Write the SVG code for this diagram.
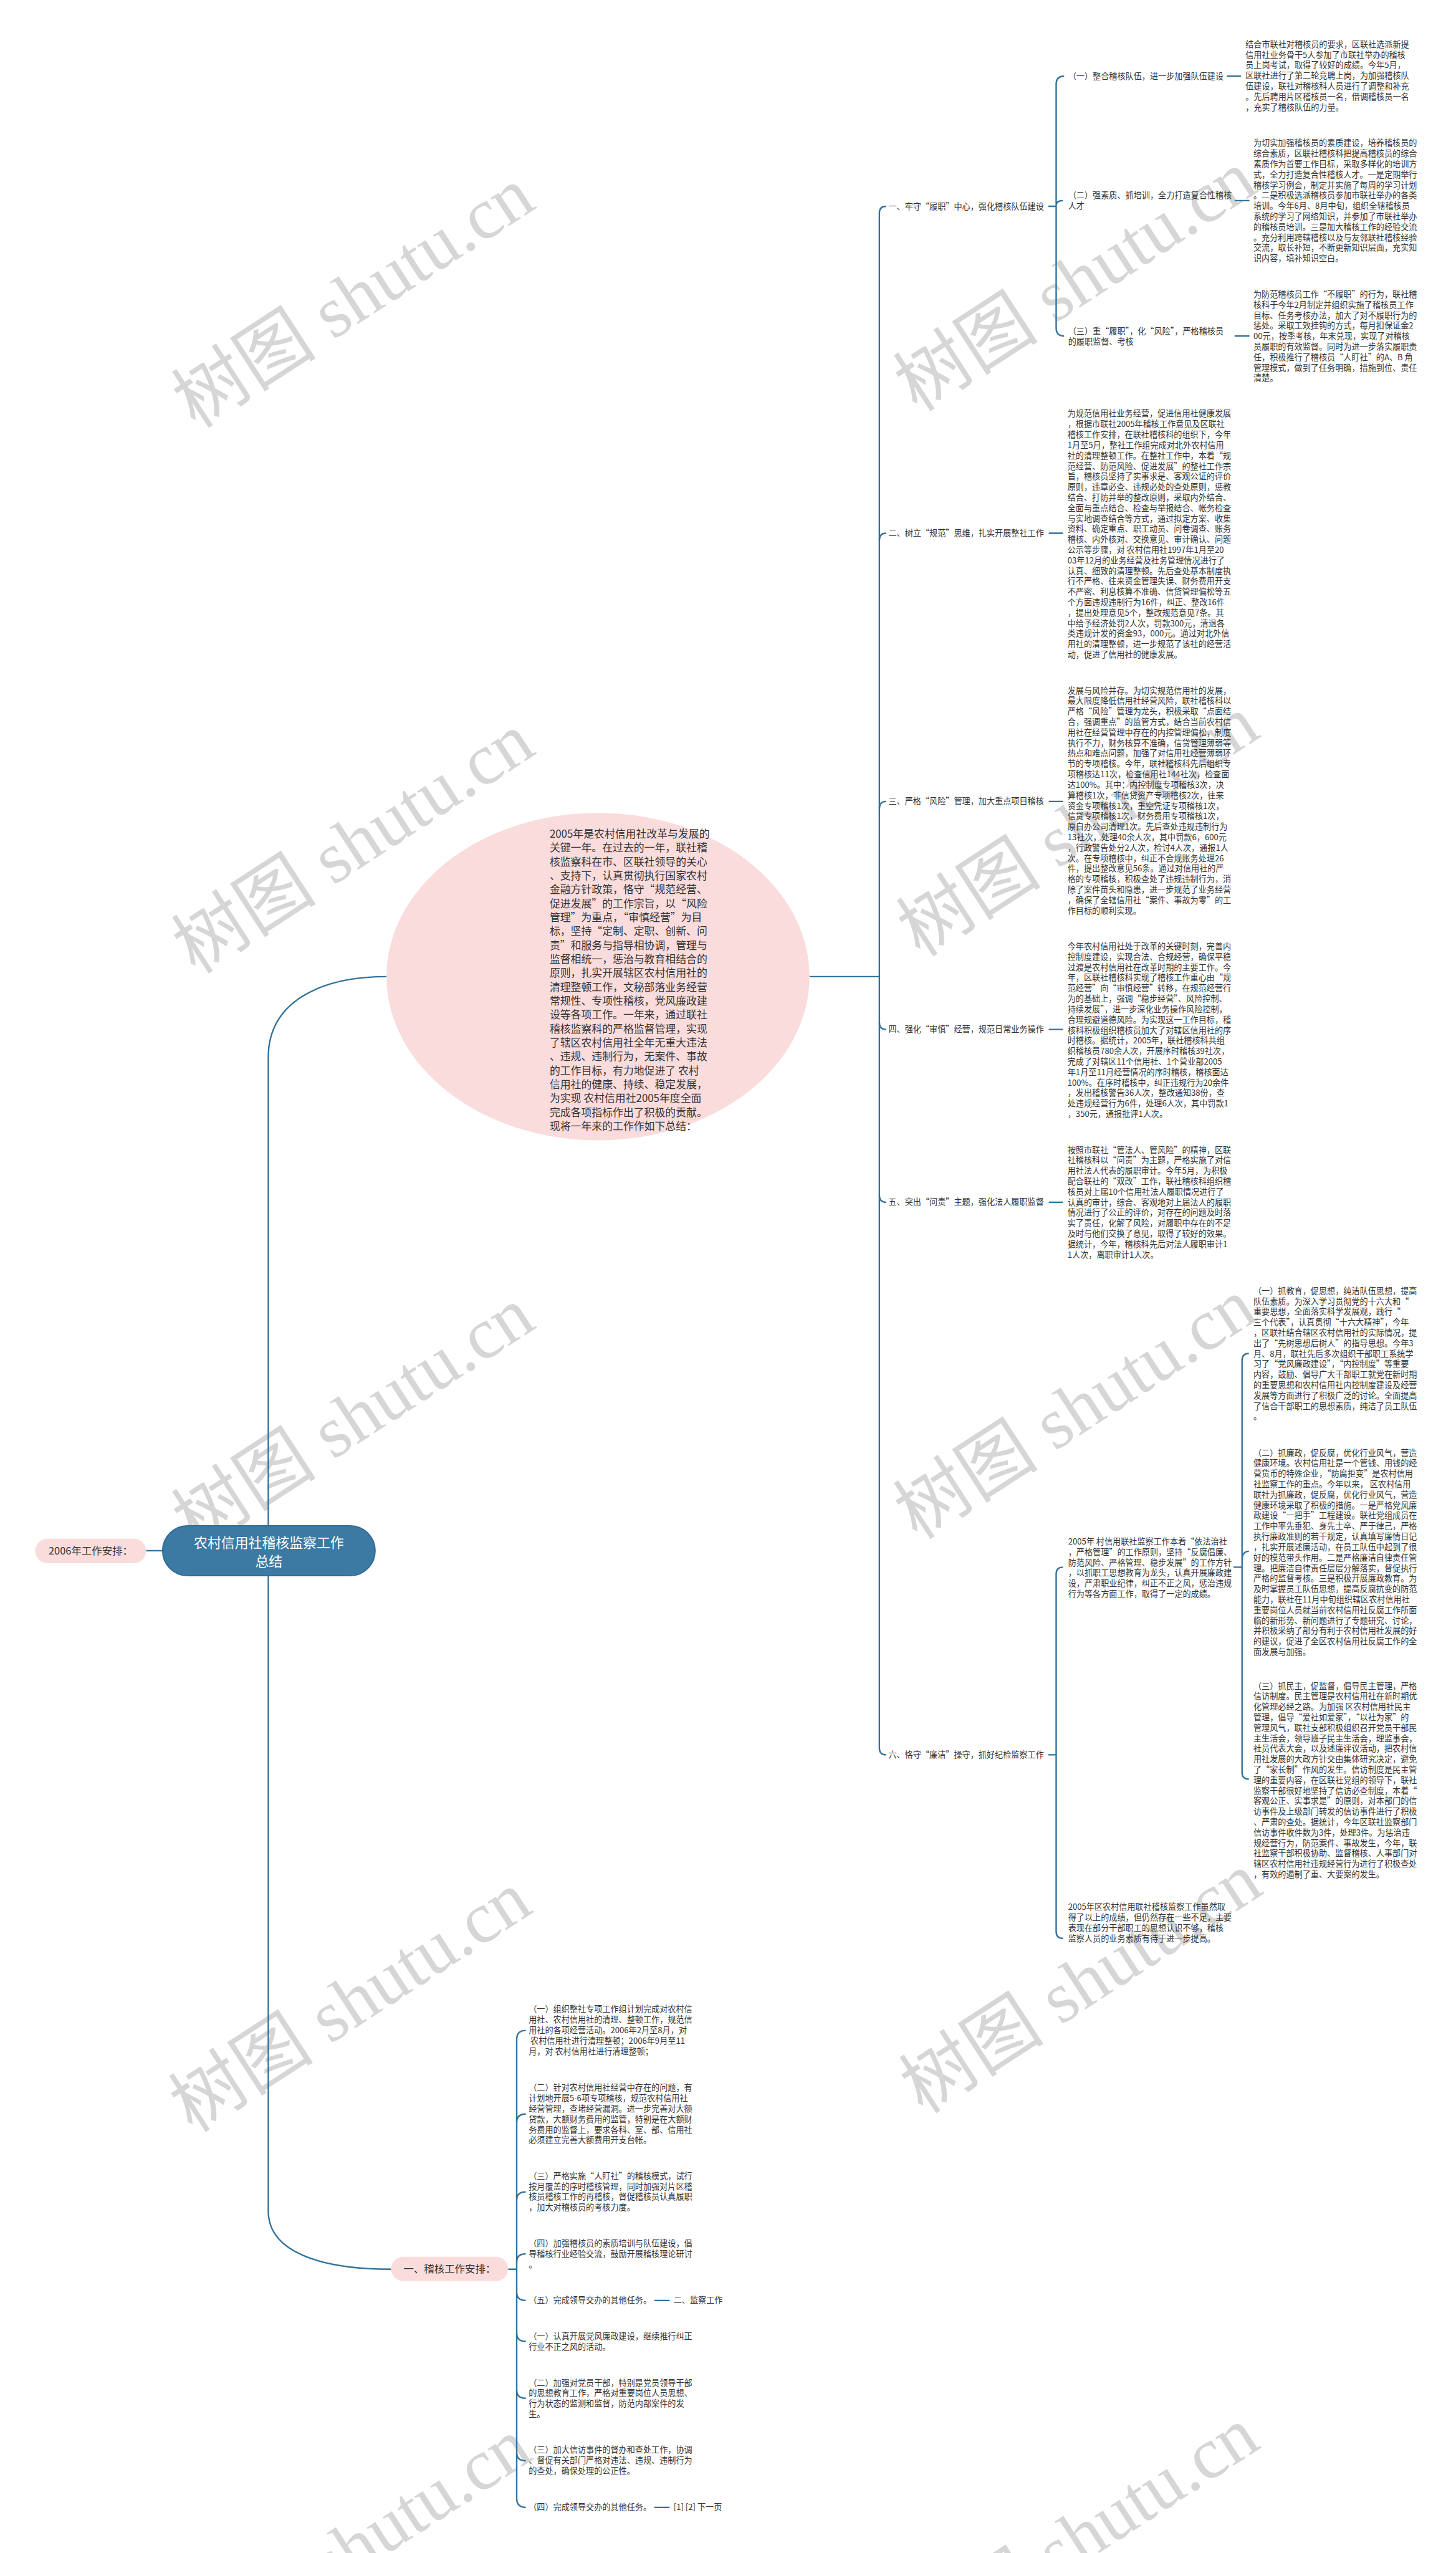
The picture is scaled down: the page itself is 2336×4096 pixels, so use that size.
<svg xmlns="http://www.w3.org/2000/svg" width="2336" height="4096" viewBox="0 0 2336 4096">
<style>
.t{font-family:"Noto Sans CJK SC","Noto Sans",sans-serif;font-size:14.4px;fill:#333}
.lb{font-family:"Noto Sans CJK SC","Noto Sans",sans-serif;font-size:18px;fill:#333;text-anchor:middle}
.el{font-family:"Noto Sans CJK SC","Noto Sans",sans-serif;font-size:18.5px;fill:#333}
.rt{font-family:"Noto Sans CJK SC","Noto Sans",sans-serif;font-size:24px;fill:#fff;text-anchor:middle}
.wm{font-family:"Liberation Serif","Noto Sans CJK SC",serif;font-size:128px;fill:#d6d6d6;text-anchor:middle}
.c{fill:none;stroke:#33729b;stroke-width:2.6}
.pk{fill:#fadcdc}
</style>
<rect width="2336" height="4096" fill="#fff"/>
<g transform="scale(0.912)">
<g id="watermarks">
<text class="wm" transform="translate(645,560) rotate(-33)">树图 shutu.cn</text>
<text class="wm" transform="translate(1915,531) rotate(-33)">树图 shutu.cn</text>
<text class="wm" transform="translate(645,1520) rotate(-33)">树图 shutu.cn</text>
<text class="wm" transform="translate(1920,1490) rotate(-33)">树图 shutu.cn</text>
<text class="wm" transform="translate(645,2530) rotate(-33)">树图 shutu.cn</text>
<text class="wm" transform="translate(1915,2515) rotate(-33)">树图 shutu.cn</text>
<text class="wm" transform="translate(640,3558) rotate(-33)">树图 shutu.cn</text>
<text class="wm" transform="translate(1925,3525) rotate(-33)">树图 shutu.cn</text>
<text class="wm" transform="translate(640,4520) rotate(-33)">树图 shutu.cn</text>
<text class="wm" transform="translate(1920,4500) rotate(-33)">树图 shutu.cn</text>
</g>
<g id="connectors">
<path class="c" d="M257,2728 H286"/>
<path class="c" d="M472,2684 V1860 C472,1765 560,1718 680,1718"/>
<path class="c" d="M472,2772 V3890 C472,3960 560,3992 688,3992"/>
<path class="c" d="M1424,1718 H1547"/>
<path class="c" d="M1559,363 Q1547,363 1547,375 V3075 Q1547,3087 1559,3087"/>
<path class="c" d="M1547,950 Q1547,938 1559,938 M1547,1422 Q1547,1410 1559,1410 M1547,1799 Q1547,1811 1559,1811 M1547,2103 Q1547,2115 1559,2115"/>
<path class="c" d="M1844,363 H1858 M1872,134 Q1858,134 1858,148 V577 Q1858,591 1872,591 M1858,362 Q1858,353 1870,353"/>
<path class="c" d="M2158,134 H2183 M2172,353 H2198 M2172,591 H2198"/>
<path class="c" d="M1845,938 H1870 M1845,1410 H1870 M1845,1811 H1870 M1845,2115 H1870"/>
<path class="c" d="M1844,3087 H1858 M1870,2757 Q1858,2757 1858,2769 V3398 Q1858,3410 1870,3410"/>
<path class="c" d="M2170,2757 H2185 M2197,2381 Q2185,2381 2185,2393 V3118 Q2185,3130 2197,3130 M2185,2745 Q2185,2729 2197,2729"/>
<path class="c" d="M894,3992 H909 M925,3572 Q909,3572 909,3588 V4395 Q909,4411 925,4411"/>
<path class="c" d="M909,3733 Q909,3719 925,3719 M909,3870 Q909,3856 925,3856 M909,3979 Q909,3965 925,3965 M909,4033 Q909,4047 925,4047 M909,4105 Q909,4119 925,4119 M909,4205 Q909,4219 925,4219 M909,4315 Q909,4329 925,4329"/>
<path class="c" d="M1151,4047 H1178 M1151,4411 H1178"/>
</g>
<g id="root">
<rect x="286" y="2684" width="374" height="88" rx="44" fill="#3c7aa3" stroke="#2e6990" stroke-width="2"/>
<text class="rt" x="473" y="2723">农村信用社稽核监察工作</text>
<text class="rt" x="473" y="2755">总结</text>
</g>
<g id="n2006">
<rect class="pk" x="62" y="2707" width="195" height="43" rx="21.5"/>
<text class="lb" x="159.5" y="2735">2006年工作安排：</text>
</g>
<g id="intro">
<ellipse class="pk" cx="1052" cy="1718" rx="372" ry="288"/>
<text class="el" x="967" y="1473.5"><tspan x="967" dy="0">2005年是农村信用社改革与发展的</tspan><tspan x="967" dy="24.5">关键一年。在过去的一年，联社稽</tspan><tspan x="967" dy="24.5">核监察科在市、区联社领导的关心</tspan><tspan x="967" dy="24.5">、支持下，认真贯彻执行国家农村</tspan><tspan x="967" dy="24.5">金融方针政策，恪守“规范经营、</tspan><tspan x="967" dy="24.5">促进发展”的工作宗旨，以“风险</tspan><tspan x="967" dy="24.5">管理”为重点，“审慎经营”为目</tspan><tspan x="967" dy="24.5">标，坚持“定制、定职、创新、问</tspan><tspan x="967" dy="24.5">责”和服务与指导相协调，管理与</tspan><tspan x="967" dy="24.5">监督相统一，惩治与教育相结合的</tspan><tspan x="967" dy="24.5">原则，扎实开展辖区农村信用社的</tspan><tspan x="967" dy="24.5">清理整顿工作，文秘部落业务经营</tspan><tspan x="967" dy="24.5">常规性、专项性稽核，党风廉政建</tspan><tspan x="967" dy="24.5">设等各项工作。一年来，通过联社</tspan><tspan x="967" dy="24.5">稽核监察科的严格监督管理，实现</tspan><tspan x="967" dy="24.5">了辖区农村信用社全年无重大违法</tspan><tspan x="967" dy="24.5">、违规、违制行为，无案件、事故</tspan><tspan x="967" dy="24.5">的工作目标，有力地促进了 农村</tspan><tspan x="967" dy="24.5">信用社的健康、持续、稳定发展，</tspan><tspan x="967" dy="24.5">为实现 农村信用社2005年度全面</tspan><tspan x="967" dy="24.5">完成各项指标作出了积极的贡献。</tspan><tspan x="967" dy="24.5">现将一年来的工作作如下总结：</tspan></text>
</g>
<g id="b1">
<text class="t" x="1563" y="368">一、牢守“履职”中心，强化稽核队伍建设</text>
</g>
<g id="b1-1">
<text class="t" x="1879" y="139">（一）整合稽核队伍，进一步加强队伍建设</text>
<text class="t" x="2191" y="83"><tspan x="2191" dy="0">结合市联社对稽核员的要求，区联社选派新提</tspan><tspan x="2191" dy="18.43">信用社业务骨干5人参加了市联社举办的稽核</tspan><tspan x="2191" dy="18.43">员上岗考试，取得了较好的成绩。今年5月，</tspan><tspan x="2191" dy="18.43">区联社进行了第二轮竞聘上岗，为加强稽核队</tspan><tspan x="2191" dy="18.43">伍建设，联社对稽核科人员进行了调整和补充</tspan><tspan x="2191" dy="18.43">。先后聘用片区稽核员一名，借调稽核员一名</tspan><tspan x="2191" dy="18.43">，充实了稽核队伍的力量。</tspan></text>
</g>
<g id="b1-2">
<text class="t" x="1879" y="349"><tspan x="1879" dy="0">（二）强素质、抓培训，全力打造复合性稽核</tspan><tspan x="1879" dy="18.43">人才</tspan></text>
<text class="t" x="2205" y="257"><tspan x="2205" dy="0">为切实加强稽核员的素质建设，培养稽核员的</tspan><tspan x="2205" dy="18.43">综合素质，区联社稽核科把提高稽核员的综合</tspan><tspan x="2205" dy="18.43">素质作为首要工作目标，采取多样化的培训方</tspan><tspan x="2205" dy="18.43">式，全力打造复合性稽核人才。一是定期举行</tspan><tspan x="2205" dy="18.43">稽核学习例会，制定并实施了每周的学习计划</tspan><tspan x="2205" dy="18.43">。二是积极选派稽核员参加市联社举办的各类</tspan><tspan x="2205" dy="18.43">培训。今年6月、8月中旬，组织全辖稽核员</tspan><tspan x="2205" dy="18.43">系统的学习了网络知识，并参加了市联社举办</tspan><tspan x="2205" dy="18.43">的稽核员培训。三是加大稽核工作的经验交流</tspan><tspan x="2205" dy="18.43">。充分利用跨辖稽核以及与友邻联社稽核经验</tspan><tspan x="2205" dy="18.43">交流，取长补短，不断更新知识层面，充实知</tspan><tspan x="2205" dy="18.43">识内容，填补知识空白。</tspan></text>
</g>
<g id="b1-3">
<text class="t" x="1879" y="588"><tspan x="1879" dy="0">（三）重“履职”，化“风险”，严格稽核员</tspan><tspan x="1879" dy="18.43">的履职监督、考核</tspan></text>
<text class="t" x="2205" y="523"><tspan x="2205" dy="0">为防范稽核员工作“不履职”的行为，联社稽</tspan><tspan x="2205" dy="18.43">核科于今年2月制定并组织实施了稽核员工作</tspan><tspan x="2205" dy="18.43">目标、任务考核办法，加大了对不履职行为的</tspan><tspan x="2205" dy="18.43">惩处。采取工效挂钩的方式，每月扣保证金2</tspan><tspan x="2205" dy="18.43">00元，按季考核，年末兑现，实现了对稽核</tspan><tspan x="2205" dy="18.43">员履职的有效监督。同时为进一步落实履职责</tspan><tspan x="2205" dy="18.43">任，积极推行了稽核员“人盯社”的A、B 角</tspan><tspan x="2205" dy="18.43">管理模式，做到了任务明确，措施到位、责任</tspan><tspan x="2205" dy="18.43">清楚。</tspan></text>
</g>
<g id="b2">
<text class="t" x="1563" y="943">二、树立“规范”思维，扎实开展整社工作</text>
<text class="t" x="1878" y="733"><tspan x="1878" dy="0">为规范信用社业务经营，促进信用社健康发展</tspan><tspan x="1878" dy="18.43">，根据市联社2005年稽核工作意见及区联社</tspan><tspan x="1878" dy="18.43">稽核工作安排，在联社稽核科的组织下，今年</tspan><tspan x="1878" dy="18.43">1月至5月，整社工作组完成对北外农村信用</tspan><tspan x="1878" dy="18.43">社的清理整顿工作。在整社工作中，本着“规</tspan><tspan x="1878" dy="18.43">范经营、防范风险、促进发展”的整社工作宗</tspan><tspan x="1878" dy="18.43">旨，稽核员坚持了实事求是、客观公证的评价</tspan><tspan x="1878" dy="18.43">原则，违章必查、违规必处的查处原则，惩教</tspan><tspan x="1878" dy="18.43">结合、打防并举的整改原则，采取内外结合、</tspan><tspan x="1878" dy="18.43">全面与重点结合、检查与举报结合、帐务检查</tspan><tspan x="1878" dy="18.43">与实地调查结合等方式，通过拟定方案、收集</tspan><tspan x="1878" dy="18.43">资料、确定重点、职工动员、问卷调查、账务</tspan><tspan x="1878" dy="18.43">稽核、内外核对、交换意见、审计确认、问题</tspan><tspan x="1878" dy="18.43">公示等步骤，对 农村信用社1997年1月至20</tspan><tspan x="1878" dy="18.43">03年12月的业务经营及社务管理情况进行了</tspan><tspan x="1878" dy="18.43">认真、细致的清理整顿。先后查处基本制度执</tspan><tspan x="1878" dy="18.43">行不严格、往来资金管理失误、财务费用开支</tspan><tspan x="1878" dy="18.43">不严密、利息核算不准确、信贷管理偏松等五</tspan><tspan x="1878" dy="18.43">个方面违规违制行为16件，纠正、整改16件</tspan><tspan x="1878" dy="18.43">，提出处理意见5个，整改规范意见7条。其</tspan><tspan x="1878" dy="18.43">中给予经济处罚2人次，罚款300元，清退各</tspan><tspan x="1878" dy="18.43">类违规计发的资金93，000元。通过对北外信</tspan><tspan x="1878" dy="18.43">用社的清理整顿，进一步规范了该社的经营活</tspan><tspan x="1878" dy="18.43">动，促进了信用社的健康发展。</tspan></text>
</g>
<g id="b3">
<text class="t" x="1563" y="1415">三、严格“风险”管理，加大重点项目稽核</text>
<text class="t" x="1878" y="1220"><tspan x="1878" dy="0">发展与风险并存。为切实规范信用社的发展，</tspan><tspan x="1878" dy="18.43">最大限度降低信用社经营风险，联社稽核科以</tspan><tspan x="1878" dy="18.43">严格“风险”管理为龙头，积极采取“点面结</tspan><tspan x="1878" dy="18.43">合，强调重点”的监管方式，结合当前农村信</tspan><tspan x="1878" dy="18.43">用社在经营管理中存在的内控管理偏松，制度</tspan><tspan x="1878" dy="18.43">执行不力，财务核算不准确，信贷管理薄弱等</tspan><tspan x="1878" dy="18.43">热点和难点问题，加强了对信用社经营薄弱环</tspan><tspan x="1878" dy="18.43">节的专项稽核。今年，联社稽核科先后组织专</tspan><tspan x="1878" dy="18.43">项稽核达11次，检查信用社144社次，检查面</tspan><tspan x="1878" dy="18.43">达100%。其中：内控制度专项稽核3次，决</tspan><tspan x="1878" dy="18.43">算稽核1次，非信贷资产专项稽核2次，往来</tspan><tspan x="1878" dy="18.43">资金专项稽核1次，重空凭证专项稽核1次，</tspan><tspan x="1878" dy="18.43">信贷专项稽核1次，财务费用专项稽核1次，</tspan><tspan x="1878" dy="18.43">原自办公司清理1次。先后查处违规违制行为</tspan><tspan x="1878" dy="18.43">13社次，处理40余人次，其中罚款6，600元</tspan><tspan x="1878" dy="18.43">，行政警告处分2人次，检讨4人次，通报1人</tspan><tspan x="1878" dy="18.43">次。在专项稽核中，纠正不合规账务处理26</tspan><tspan x="1878" dy="18.43">件，提出整改意见56条。通过对信用社的严</tspan><tspan x="1878" dy="18.43">格的专项稽核，积极查处了违规违制行为，消</tspan><tspan x="1878" dy="18.43">除了案件苗头和隐患，进一步规范了业务经营</tspan><tspan x="1878" dy="18.43">，确保了全辖信用社“案件、事故为零”的工</tspan><tspan x="1878" dy="18.43">作目标的顺利实现。</tspan></text>
</g>
<g id="b4">
<text class="t" x="1563" y="1816">四、强化“审慎”经营，规范日常业务操作</text>
<text class="t" x="1878" y="1670"><tspan x="1878" dy="0">今年农村信用社处于改革的关键时刻，完善内</tspan><tspan x="1878" dy="18.43">控制度建设，实现合法、合规经营，确保平稳</tspan><tspan x="1878" dy="18.43">过渡是农村信用社在改革时期的主要工作。今</tspan><tspan x="1878" dy="18.43">年，区联社稽核科实现了稽核工作重心由“规</tspan><tspan x="1878" dy="18.43">范经营”向“审慎经营”转移，在规范经营行</tspan><tspan x="1878" dy="18.43">为的基础上，强调“稳步经营”、风险控制、</tspan><tspan x="1878" dy="18.43">持续发展”，进一步深化业务操作风险控制，</tspan><tspan x="1878" dy="18.43">合理规避道德风险。为实现这一工作目标，稽</tspan><tspan x="1878" dy="18.43">核科积极组织稽核员加大了对辖区信用社的序</tspan><tspan x="1878" dy="18.43">时稽核。据统计，2005年，联社稽核科共组</tspan><tspan x="1878" dy="18.43">织稽核员780余人次，开展序时稽核39社次，</tspan><tspan x="1878" dy="18.43">完成了对辖区11个信用社、1个营业部2005</tspan><tspan x="1878" dy="18.43">年1月至11月经营情况的序时稽核，稽核面达</tspan><tspan x="1878" dy="18.43">100%。在序时稽核中，纠正违规行为20余件</tspan><tspan x="1878" dy="18.43">，发出稽核警告36人次，整改通知38份，查</tspan><tspan x="1878" dy="18.43">处违规经营行为6件，处理6人次，其中罚款1</tspan><tspan x="1878" dy="18.43">，350元，通报批评1人次。</tspan></text>
</g>
<g id="b5">
<text class="t" x="1563" y="2120">五、突出“问责”主题，强化法人履职监督</text>
<text class="t" x="1878" y="2028"><tspan x="1878" dy="0">按照市联社“管法人、管风险”的精神，区联</tspan><tspan x="1878" dy="18.43">社稽核科以“问责”为主题，严格实施了对信</tspan><tspan x="1878" dy="18.43">用社法人代表的履职审计。今年5月，为积极</tspan><tspan x="1878" dy="18.43">配合联社的“双改”工作，联社稽核科组织稽</tspan><tspan x="1878" dy="18.43">核员对上届10个信用社法人履职情况进行了</tspan><tspan x="1878" dy="18.43">认真的审计，综合、客观地对上届法人的履职</tspan><tspan x="1878" dy="18.43">情况进行了公正的评价，对存在的问题及时落</tspan><tspan x="1878" dy="18.43">实了责任，化解了风险，对履职中存在的不足</tspan><tspan x="1878" dy="18.43">及时与他们交换了意见，取得了较好的效果。</tspan><tspan x="1878" dy="18.43">据统计，今年，稽核科先后对法人履职审计1</tspan><tspan x="1878" dy="18.43">1人次，离职审计1人次。</tspan></text>
</g>
<g id="b6">
<text class="t" x="1563" y="3092">六、恪守“廉洁”操守，抓好纪检监察工作</text>
</g>
<g id="b6-a">
<text class="t" x="1879" y="2717"><tspan x="1879" dy="0">2005年 村信用联社监察工作本着“依法治社</tspan><tspan x="1879" dy="18.43">，严格管理”的工作原则，坚持“反腐倡廉、</tspan><tspan x="1879" dy="18.43">防范风险、严格管理、稳步发展”的工作方针</tspan><tspan x="1879" dy="18.43">，以抓职工思想教育为龙头，认真开展廉政建</tspan><tspan x="1879" dy="18.43">设，严肃职业纪律，纠正不正之风，惩治违规</tspan><tspan x="1879" dy="18.43">行为等各方面工作，取得了一定的成绩。</tspan></text>
</g>
<g id="b6-a1">
<text class="t" x="2205" y="2276"><tspan x="2205" dy="0">（一）抓教育，促思想，纯洁队伍思想，提高</tspan><tspan x="2205" dy="18.43">队伍素质。为深入学习贯彻党的十六大和“</tspan><tspan x="2205" dy="18.43">重要思想，全面落实科学发展观，践行“</tspan><tspan x="2205" dy="18.43">三个代表”，认真贯彻“十六大精神”，今年</tspan><tspan x="2205" dy="18.43">，区联社结合辖区农村信用社的实际情况，提</tspan><tspan x="2205" dy="18.43">出了“先树思想后树人”的指导思想。今年3</tspan><tspan x="2205" dy="18.43">月、8月，联社先后多次组织干部职工系统学</tspan><tspan x="2205" dy="18.43">习了“党风廉政建设”，“内控制度”等重要</tspan><tspan x="2205" dy="18.43">内容，鼓励、倡导广大干部职工就党在新时期</tspan><tspan x="2205" dy="18.43">的重要思想和农村信用社内控制度建设及经营</tspan><tspan x="2205" dy="18.43">发展等方面进行了积极广泛的讨论。全面提高</tspan><tspan x="2205" dy="18.43">了信合干部职工的思想素质，纯洁了员工队伍</tspan><tspan x="2205" dy="18.43">。</tspan></text>
</g>
<g id="b6-a2">
<text class="t" x="2205" y="2561"><tspan x="2205" dy="0">（二）抓廉政，促反腐，优化行业风气，营造</tspan><tspan x="2205" dy="18.43">健康环境。农村信用社是一个管钱、用钱的经</tspan><tspan x="2205" dy="18.43">营货币的特殊企业，“防腐拒变”是农村信用</tspan><tspan x="2205" dy="18.43">社监察工作的重点。今年以来， 区农村信用</tspan><tspan x="2205" dy="18.43">联社为抓廉政，促反腐，优化行业风气，营造</tspan><tspan x="2205" dy="18.43">健康环境采取了积极的措施。一是严格党风廉</tspan><tspan x="2205" dy="18.43">政建设“一把手”工程建设。联社党组成员在</tspan><tspan x="2205" dy="18.43">工作中率先垂犯、身先士卒、严于律己，严格</tspan><tspan x="2205" dy="18.43">执行廉政准则的若干规定，认真填写廉情日记</tspan><tspan x="2205" dy="18.43">，扎实开展述廉活动，在员工队伍中起到了很</tspan><tspan x="2205" dy="18.43">好的模范带头作用。二是严格廉洁自律责任管</tspan><tspan x="2205" dy="18.43">理。把廉洁自律责任层层分解落实，督促执行</tspan><tspan x="2205" dy="18.43">严格的监督考核。三是积极开展廉政教育。为</tspan><tspan x="2205" dy="18.43">及时掌握员工队伍思想，提高反腐抗变的防范</tspan><tspan x="2205" dy="18.43">能力，联社在11月中旬组织辖区农村信用社</tspan><tspan x="2205" dy="18.43">重要岗位人员就当前农村信用社反腐工作所面</tspan><tspan x="2205" dy="18.43">临的新形势、新问题进行了专题研究、讨论，</tspan><tspan x="2205" dy="18.43">并积极采纳了部分有利于农村信用社发展的好</tspan><tspan x="2205" dy="18.43">的建议，促进了全区农村信用社反腐工作的全</tspan><tspan x="2205" dy="18.43">面发展与加强。</tspan></text>
</g>
<g id="b6-a3">
<text class="t" x="2205" y="2971"><tspan x="2205" dy="0">（三）抓民主，促监督，倡导民主管理，严格</tspan><tspan x="2205" dy="18.43">信访制度。民主管理是农村信用社在新时期优</tspan><tspan x="2205" dy="18.43">化管理必经之路。为加强 区农村信用社民主</tspan><tspan x="2205" dy="18.43">管理，倡导“爱社如爱家”，“以社为家”的</tspan><tspan x="2205" dy="18.43">管理风气，联社支部积极组织召开党员干部民</tspan><tspan x="2205" dy="18.43">主生活会，领导班子民主生活会，理监事会，</tspan><tspan x="2205" dy="18.43">社员代表大会，以及述廉评议活动，把农村信</tspan><tspan x="2205" dy="18.43">用社发展的大政方针交由集体研究决定，避免</tspan><tspan x="2205" dy="18.43">了“家长制”作风的发生。信访制度是民主管</tspan><tspan x="2205" dy="18.43">理的重要内容，在区联社党组的领导下，联社</tspan><tspan x="2205" dy="18.43">监察干部很好地坚持了信访必查制度，本着“</tspan><tspan x="2205" dy="18.43">客观公正、实事求是”的原则，对本部门的信</tspan><tspan x="2205" dy="18.43">访事件及上级部门转发的信访事件进行了积极</tspan><tspan x="2205" dy="18.43">、严肃的查处。据统计，今年区联社监察部门</tspan><tspan x="2205" dy="18.43">信访事件收件数为3件，处理3件。为惩治违</tspan><tspan x="2205" dy="18.43">规经营行为，防范案件、事故发生，今年，联</tspan><tspan x="2205" dy="18.43">社监察干部积极协助、监督稽核、人事部门对</tspan><tspan x="2205" dy="18.43">辖区农村信用社违规经营行为进行了积极查处</tspan><tspan x="2205" dy="18.43">，有效的遏制了重、大要案的发生。</tspan></text>
</g>
<g id="b6-b">
<text class="t" x="1879" y="3360"><tspan x="1879" dy="0">2005年区农村信用联社稽核监察工作虽然取</tspan><tspan x="1879" dy="18.43">得了以上的成绩，但仍然存在一些不足，主要</tspan><tspan x="1879" dy="18.43">表现在部分干部职工的思想认识不够，稽核</tspan><tspan x="1879" dy="18.43">监察人员的业务素质有待于进一步提高。</tspan></text>
</g>
<g id="plan">
<rect class="pk" x="688" y="3970" width="206" height="43" rx="21.5"/>
<text class="lb" x="791" y="3998">一、稽核工作安排：</text>
</g>
<g id="p1"><text class="t" x="930" y="3540"><tspan x="930" dy="0">（一）组织整社专项工作组计划完成对农村信</tspan><tspan x="930" dy="18.43">用社、农村信用社的清理、整顿工作，规范信</tspan><tspan x="930" dy="18.43">用社的各项经营活动。2006年2月至8月，对</tspan><tspan x="930" dy="18.43"> 农村信用社进行清理整顿；2006年9月至11</tspan><tspan x="930" dy="18.43">月，对 农村信用社进行清理整顿；</tspan></text></g>
<g id="p2"><text class="t" x="930" y="3678"><tspan x="930" dy="0">（二）针对农村信用社经营中存在的问题，有</tspan><tspan x="930" dy="18.43">计划地开展5-6项专项稽核，规范农村信用社</tspan><tspan x="930" dy="18.43">经营管理，查堵经营漏洞。进一步完善对大额</tspan><tspan x="930" dy="18.43">贷款，大额财务费用的监管，特别是在大额财</tspan><tspan x="930" dy="18.43">务费用的监督上，要求各科、室、部、信用社</tspan><tspan x="930" dy="18.43">必须建立完善大额费用开支台帐。</tspan></text></g>
<g id="p3"><text class="t" x="930" y="3833"><tspan x="930" dy="0">（三）严格实施“人盯社”的稽核模式，试行</tspan><tspan x="930" dy="18.43">按月覆盖的序时稽核管理，同时加强对片区稽</tspan><tspan x="930" dy="18.43">核员稽核工作的再稽核，督促稽核员认真履职</tspan><tspan x="930" dy="18.43">，加大对稽核员的考核力度。</tspan></text></g>
<g id="p4"><text class="t" x="930" y="3952"><tspan x="930" dy="0">（四）加强稽核员的素质培训与队伍建设，倡</tspan><tspan x="930" dy="18.43">导稽核行业经验交流，鼓励开展稽核理论研讨</tspan><tspan x="930" dy="18.43">。</tspan></text></g>
<g id="p5"><text class="t" x="930" y="4052">（五）完成领导交办的其他任务。</text></g>
<g id="p5a"><text class="t" x="1185" y="4052">二、监察工作</text></g>
<g id="s1"><text class="t" x="930" y="4115"><tspan x="930" dy="0">（一）认真开展党风廉政建设，继续推行纠正</tspan><tspan x="930" dy="18.43">行业不正之风的活动。</tspan></text></g>
<g id="s2"><text class="t" x="930" y="4197"><tspan x="930" dy="0">（二）加强对党员干部，特别是党员领导干部</tspan><tspan x="930" dy="18.43">的思想教育工作，严格对重要岗位人员思想、</tspan><tspan x="930" dy="18.43">行为状态的监测和监督，防范内部案件的发</tspan><tspan x="930" dy="18.43">生。</tspan></text></g>
<g id="s3"><text class="t" x="930" y="4315"><tspan x="930" dy="0">（三）加大信访事件的督办和查处工作，协调</tspan><tspan x="930" dy="18.43">、督促有关部门严格对违法、违规、违制行为</tspan><tspan x="930" dy="18.43">的查处，确保处理的公正性。</tspan></text></g>
<g id="s4"><text class="t" x="930" y="4416">（四）完成领导交办的其他任务。</text></g>
<g id="s4a"><text class="t" x="1185" y="4416">[1] [2] 下一页</text></g>
</g>
</svg>
